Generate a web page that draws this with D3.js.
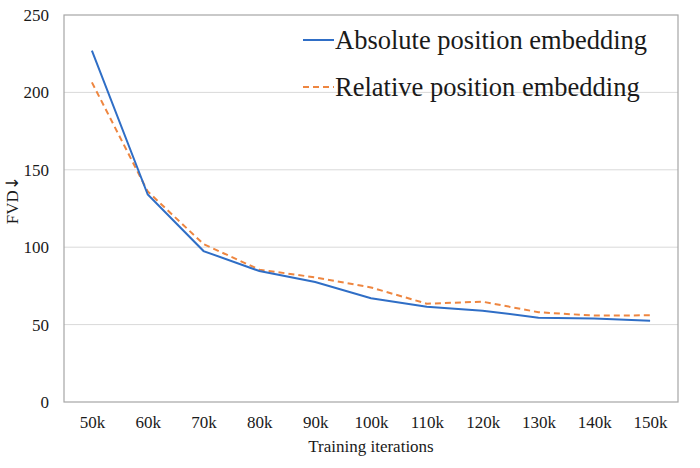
<!DOCTYPE html>
<html>
<head>
<meta charset="utf-8">
<script src="https://cdn.jsdelivr.net/npm/d3@7"></script>
<style>
  body { margin: 0; background: #fff; }
  text { font-family: "Liberation Serif", "DejaVu Serif", serif; fill: #1a1a1a; }
</style>
</head>
<body>
<svg id="chart" width="700" height="468"></svg>
<script>
// data
const iterations = ["50k", "60k", "70k", "80k", "90k", "100k", "110k", "120k", "130k", "140k", "150k"];
const absolutePos = [227, 134, 97.5, 84.6, 77.5, 67, 61.6, 59, 54.5, 54, 52.5];
const relativePos = [206.5, 136, 102, 85.5, 80.5, 74, 63.5, 64.8, 58, 55.8, 56];
const yTicks = [0, 50, 100, 150, 200, 250];

const svg = d3.select("#chart");
const margin = { left: 64, right: 22, top: 15, bottom: 66 };
const width = 700 - margin.left - margin.right, height = 468 - margin.top - margin.bottom;
const serif = "Liberation Serif";

const g = svg.append("g").attr("transform", `translate(${margin.left}, ${margin.top})`);

var xScale = d3.scalePoint().domain(iterations).range([0, width]).padding(0.5);
var yScale = d3.scaleLinear().domain([0, 250]).range([height, 0]);

// gridlines
g.selectAll(".grid").data(yTicks.filter(t => t > 0 && t < 250)).join("line")
  .attr("class", "grid")
  .attr("x1", 0).attr("x2", width)
  .attr("y1", d => yScale(d)).attr("y2", d => yScale(d))
  .attr("stroke", "#d9d9d9").attr("stroke-width", 1);

// frame
g.append("rect").attr("width", width).attr("height", height)
  .attr("fill", "none").attr("stroke", "#a6a6a6").attr("stroke-width", 1.2);

// axes (no lines, just labels)
const yAxis = g.append("g").attr("font-family", serif).attr("font-size", 17)
  .call(d3.axisLeft(yScale).tickValues(yTicks).tickSize(0).tickPadding(15));
yAxis.attr("font-family", serif).attr("font-size", 17);
yAxis.select(".domain").remove();
yAxis.selectAll("text").attr("fill", "#1a1a1a");

const xAxis = g.append("g").attr("transform", `translate(0, ${height})`)
  .call(d3.axisBottom(xScale).tickSize(0).tickPadding(14));
xAxis.attr("font-family", serif).attr("font-size", 17);
xAxis.select(".domain").remove();
xAxis.selectAll("text").attr("fill", "#1a1a1a");

// axis titles
svg.append("text").attr("x", margin.left + width / 2).attr("y", 452)
  .attr("text-anchor", "middle").style("font-size", "17px").text("Training iterations");
const yTitle = svg.append("text").attr("transform", "translate(18, 200) rotate(-90)")
  .attr("text-anchor", "middle").style("font-size", "17px");
yTitle.append("tspan").text("FVD");
yTitle.append("tspan").style("font-family", "DejaVu Sans").style("font-size", "17px").text("\u2193");

// lines
const line = d3.line().x((d, i) => xScale(iterations[i])).y(d => yScale(d));
g.append("path").datum(relativePos).attr("d", line)
  .attr("fill", "none").attr("stroke", "#ee8640").attr("stroke-width", 2)
  .attr("stroke-dasharray", "6,4");
g.append("path").datum(absolutePos).attr("d", line)
  .attr("fill", "none").attr("stroke", "#2f6ec6").attr("stroke-width", 2);

// legend
const legendItems = [
  { name: "Absolute position embedding", color: "#2f6ec6", dash: null },
  { name: "Relative position embedding", color: "#ee8640", dash: "6,4" }
];
const leg = svg.append("g").attr("transform", "translate(303, 40)");
leg.selectAll("line").data(legendItems).join("line")
  .attr("x1", 0).attr("x2", 31)
  .attr("y1", (d, i) => i * 47).attr("y2", (d, i) => i * 47)
  .attr("stroke", d => d.color).attr("stroke-width", 2)
  .attr("stroke-dasharray", d => d.dash);
leg.selectAll("text").data(legendItems).join("text")
  .attr("x", 32).attr("y", (d, i) => i * 47 + 9)
  .style("font-size", "26.5px")
  .text(d => d.name);
</script>
</body>
</html>
